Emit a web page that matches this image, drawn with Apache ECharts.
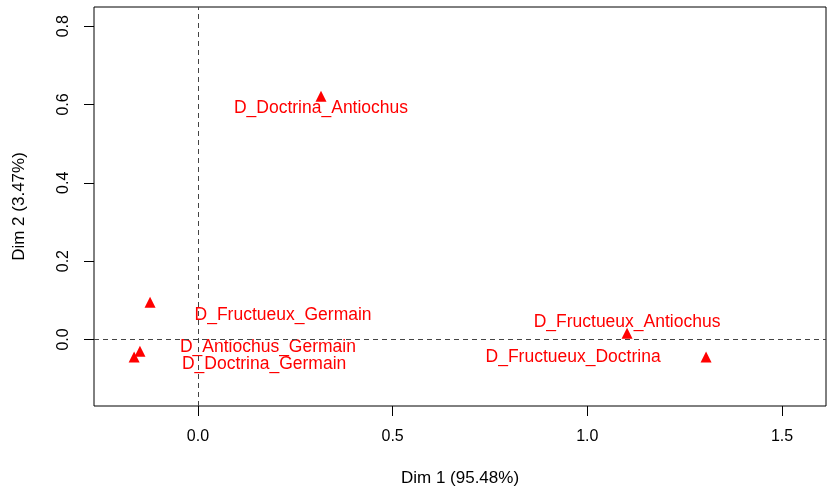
<!DOCTYPE html>
<html>
<head>
<meta charset="utf-8">
<script src="https://cdn.jsdelivr.net/npm/echarts@6/dist/echarts.min.js"></script>
<style>
  html, body { margin: 0; padding: 0; background: #fff; }
  #chart { width: 827px; height: 486px; }
</style>
</head>
<body>
<div id="chart"></div>
<script>
  // points of the CA plot (Dim 1 / Dim 2)
  var names = ['D_Doctrina_Antiochus', 'D_Fructueux_Germain', 'D_Antiochus_Germain',
               'D_Doctrina_Germain', 'D_Fructueux_Antiochus', 'D_Fructueux_Doctrina'];
  var dim1 = [0.316, -0.123, -0.149, -0.164, 1.102, 1.305];
  var dim2 = [0.621, 0.095, -0.030, -0.045, 0.016, -0.045];
  var xTicks = [0, 0.5, 1, 1.5];
  var yTicks = [0, 0.2, 0.4, 0.6, 0.8];

  // where each label sits relative to its point (px)
  var labelShift = [[0, 12], [133, 13], [128, -4], [130, 7], [0, -11], [-133, 0]];

  var font = 'Liberation Sans, Arial, Helvetica, sans-serif';
  var chart = echarts.init(document.getElementById('chart'));

  var points = [];
  for (var i = 0; i < names.length; i++) {
    points.push({
      name: names[i],
      value: [dim1[i], dim2[i]],
      label: { offset: labelShift[i] }
    });
  }

  var option = {
    animation: false,
    grid: {
      left: 94, right: 1, top: 7, bottom: 80,
      outerBoundsMode: 'none',
      show: true, borderColor: '#000', borderWidth: 1, backgroundColor: 'transparent'
    },
    xAxis: {
      type: 'value',
      min: -0.267, max: 1.613,
      name: 'Dim 1 (95.48%)',
      nameLocation: 'middle',
      nameGap: 64,
      nameTextStyle: { color: '#000', fontSize: 17, fontFamily: font },
      splitLine: { show: false },
      axisLine: { show: false, onZero: false },
      axisTick: { show: true, length: 10, customValues: xTicks, lineStyle: { color: '#000' } },
      axisLabel: {
        customValues: xTicks, color: '#000', fontSize: 16, fontFamily: font, margin: 23,
        formatter: function (v) { return v.toFixed(1); }
      }
    },
    yAxis: {
      type: 'value',
      min: -0.170, max: 0.849,
      name: 'Dim 2 (3.47%)',
      nameLocation: 'middle',
      nameGap: 66,
      nameTextStyle: { color: '#000', fontSize: 17, fontFamily: font },
      splitLine: { show: false },
      axisLine: { show: false, onZero: false },
      axisTick: { show: true, length: 10, customValues: yTicks, lineStyle: { color: '#000' } },
      axisLabel: {
        customValues: yTicks, color: '#000', fontSize: 16, fontFamily: font, margin: 22,
        rotate: 90, align: 'center', verticalAlign: 'bottom',
        formatter: function (v) { return v.toFixed(1); }
      }
    },
    series: [{
      type: 'scatter',
      symbol: 'triangle',
      symbolSize: 11,
      itemStyle: { color: '#ff0000', opacity: 1 },
      label: {
        show: true,
        position: 'inside',
        formatter: '{b}',
        color: '#ff0000',
        fontSize: 17.5,
        fontFamily: font
      },
      data: points,
      markLine: {
        silent: true,
        symbol: 'none',
        label: { show: false },
        lineStyle: { color: '#444', type: [5, 4], width: 1, opacity: 1 },
        data: [{ xAxis: 0 }, { yAxis: 0 }]
      }
    }]
  };

  chart.setOption(option);
</script>
</body>
</html>
